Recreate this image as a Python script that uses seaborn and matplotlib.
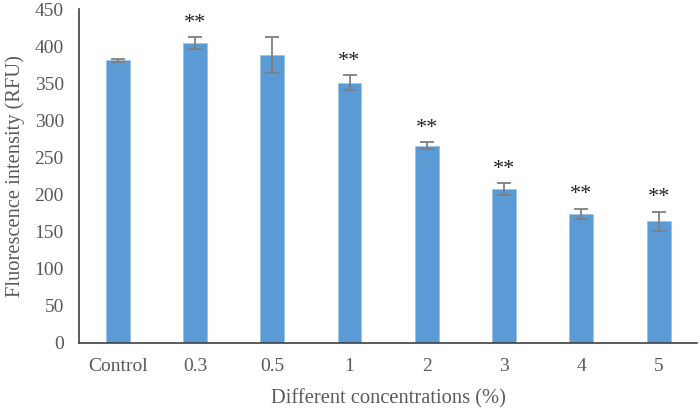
import numpy as np
import pandas as pd
import matplotlib
matplotlib.use("Agg")
import matplotlib.pyplot as plt
import seaborn as sns

concentrations = ["Control", "0.3", "0.5", "1", "2", "3", "4", "5"]
fluorescence = [381, 404, 388, 351, 266, 207, 174, 164]
errors = [2, 8, 24, 10, 4.5, 8, 7, 13]
significance = ["", "**", "", "**", "**", "**", "**", "**"]

sns.set_style("white")
plt.rcParams['font.family'] = ['Liberation Serif', 'DejaVu Serif']

data = pd.DataFrame({"conc": concentrations, "rfu": fluorescence})

fig = plt.figure(figsize=(7, 4.11), dpi=100)
ax = fig.add_axes([0.113, 0.1655, 0.883, 0.8125])
sns.barplot(data=data, x="conc", y="rfu", color="#5B9BD5", saturation=1,
            width=0.31, ax=ax, edgecolor="#9DC3E6", linewidth=0.6)
ax.errorbar(range(len(concentrations)), fluorescence, yerr=errors, fmt="none",
            ecolor="#7F7F7F", elinewidth=1.3, capsize=5, capthick=1.3)

for i, (v, e, s) in enumerate(zip(fluorescence, errors, significance)):
    if s:
        ax.text(i, v + e + 6, s, ha="center", va="bottom", fontsize=16,
                color="#262626")

ax.set_ylim(0, 450)
ax.set_yticks(np.arange(0, 451, 50))
ax.set_xlim(-0.5, len(concentrations) - 0.5)
ax.tick_params(axis="both", labelsize=14, colors="#595959", length=0)
ax.tick_params(axis="y", pad=11)
ax.tick_params(axis="x", pad=11)
ax.set_xlabel("Different concentrations (%)", fontsize=14.8, color="#595959", labelpad=10)
ax.set_ylabel("Fluorescence intensity (RFU)", fontsize=14.8, color="#595959", labelpad=7)
sns.despine(ax=ax)
for side in ["left", "bottom"]:
    ax.spines[side].set_color("#404040")
    ax.spines[side].set_linewidth(1.2)

fig.savefig("out.png", dpi=100)
